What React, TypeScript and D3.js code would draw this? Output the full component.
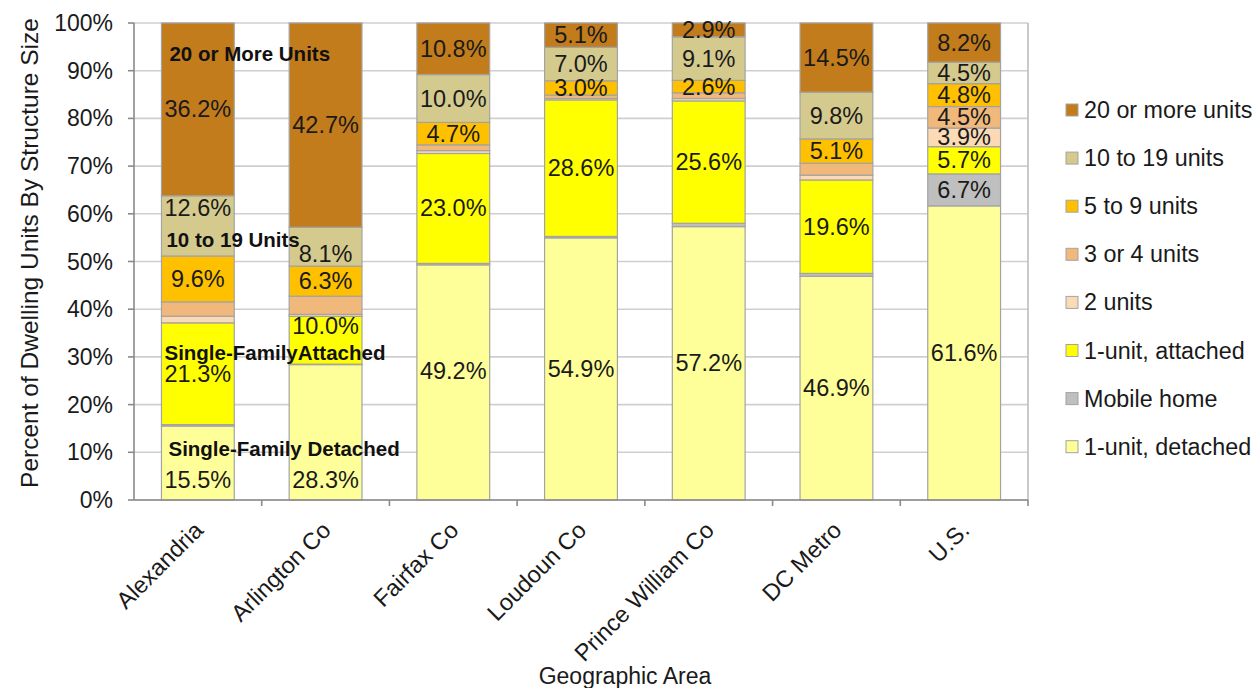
import React from "react";
import * as d3 from "d3";

const categories = ["Alexandria", "Arlington Co", "Fairfax Co", "Loudoun Co", "Prince William Co", "DC Metro", "U.S."];
const seriesNames = ["1-unit, detached", "Mobile home", "1-unit, attached", "2 units", "3 or 4 units", "5 to 9 units", "10 to 19 units", "20 or more units"];
const detached = [15.5, 28.3, 49.2, 54.9, 57.2, 46.9, 61.6];
const mobileHome = [0.3, 0.1, 0.3, 0.3, 0.7, 0.6, 6.7];
const attached = [21.3, 10.0, 23.0, 28.6, 25.6, 19.6, 5.7];
const twoUnits = [1.4, 0.4, 0.6, 0.3, 0.5, 1.0, 3.9];
const threeFour = [3.0, 3.8, 1.2, 0.7, 1.2, 2.5, 4.5];
const fiveNine = [9.6, 6.3, 4.7, 3.0, 2.6, 5.1, 4.8];
const tenNineteen = [12.6, 8.1, 10.0, 7.0, 9.1, 9.8, 4.5];
const twentyPlus = [36.2, 42.7, 10.8, 5.1, 2.9, 14.5, 8.2];
const yTicks = [0, 10, 20, 30, 40, 50, 60, 70, 80, 90, 100];
const seriesColors = ["#FFFF99", "#BFBFBF", "#FFFF00", "#FBDAB5", "#F1B87C", "#FFC000", "#D5CA8E", "#C27C1C"];
const legendOrder = ["20 or more units", "10 to 19 units", "5 to 9 units", "3 or 4 units", "2 units", "1-unit, attached", "Mobile home", "1-unit, detached"];
// Series whose labels are shown in every bar; the rest only for U.S.
const alwaysLabeled = ["1-unit, detached", "1-unit, attached", "5 to 9 units", "10 to 19 units", "20 or more units"];
// Label nudges (percentage points) as placed in the original
const labelShifts = [
  { cat: "Alexandria", series: "10 to 19 units", dy: 3.7 },
  { cat: "Alexandria", series: "1-unit, detached", dy: -3.5 },
  { cat: "Arlington Co", series: "10 to 19 units", dy: -1.6 },
  { cat: "Arlington Co", series: "1-unit, attached", dy: 2.9 },
  { cat: "Arlington Co", series: "1-unit, detached", dy: -10 },
  { cat: "Fairfax Co", series: "1-unit, detached", dy: 2.3 },
];
const annotations = [
  { text: "20 or More Units", level: 93.7, dx: 8 },
  { text: "10 to 19 Units", level: 54.6, dx: 5 },
  { text: "Single-FamilyAttached", level: 31.0, dx: 3 },
  { text: "Single-Family Detached", level: 10.8, dx: 7 },
];

const W = 1256, H = 688;
const M = { left: 134, right: 1028, top: 23, bottom: 500 };
const FONT = "'Liberation Sans', Arial, Helvetica, sans-serif";

export default function App() {
  const valuesBySeries = [detached, mobileHome, attached, twoUnits, threeFour, fiveNine, tenNineteen, twentyPlus];
  const rows = categories.map((c, i) => {
    const r: any = { cat: c };
    seriesNames.forEach((s, j) => (r[s] = valuesBySeries[j][i]));
    return r;
  });
  const stacked = d3.stack().keys(seriesNames).offset(d3.stackOffsetExpand)(rows);

  const x = d3.scaleBand().domain(categories).range([M.left, M.right]).paddingInner(0.43).paddingOuter(0.215);
  const y = d3.scaleLinear().domain([0, 100]).range([M.bottom, M.top]);
  const step = x.step();
  const color = d3.scaleOrdinal<string, string>().domain(seriesNames).range(seriesColors);

  return (
    <div style={{ position: "absolute", left: 0, top: 0 }}>
      <svg width={W} height={H} style={{ display: "block", fontFamily: FONT }}>
        <rect x={0} y={0} width={W} height={H} fill="#fff" />
        {/* gridlines */}
        {yTicks.map((t) => (
          <line key={t} x1={M.left} x2={M.right} y1={y(t)} y2={y(t)} stroke="#CFCFCF" strokeWidth={1.6} />
        ))}
        <line x1={M.right} x2={M.right} y1={M.top} y2={M.bottom} stroke="#BDBDBD" strokeWidth={1.6} />
        {/* bars */}
        {stacked.map((layer) =>
          layer.map((d, i) => {
            const cat = categories[i];
            return (
              <rect
                key={layer.key + cat}
                x={x(cat)!}
                width={x.bandwidth()}
                y={y(d[1] * 100)}
                height={Math.max(0, y(d[0] * 100) - y(d[1] * 100))}
                fill={color(layer.key)}
                stroke="#A3A3A3"
                strokeWidth={1.2}
              />
            );
          })
        )}
        {/* axes */}
        <line x1={M.left} x2={M.left} y1={M.top} y2={M.bottom} stroke="#8A8A8A" strokeWidth={1.6} />
        <line x1={M.left} x2={M.right} y1={M.bottom} y2={M.bottom} stroke="#8A8A8A" strokeWidth={1.6} />
        {yTicks.map((t) => (
          <g key={"yt" + t}>
            <line x1={M.left - 6} x2={M.left} y1={y(t)} y2={y(t)} stroke="#8A8A8A" strokeWidth={1.6} />
            <text x={113} y={y(t)} textAnchor="end" dominantBaseline="central" fontSize={23} fill="#1a1a1a">
              {t + "%"}
            </text>
          </g>
        ))}
        {categories.map((c, i) => (
          <line key={"xt" + c} x1={M.left + step * (i + 1)} x2={M.left + step * (i + 1)} y1={M.bottom} y2={M.bottom + 6} stroke="#8A8A8A" strokeWidth={1.6} />
        ))}
        {categories.map((c) => {
          const cx = x(c)! + x.bandwidth() / 2 + 1;
          return (
            <text key={"xl" + c} transform={`translate(${cx},${M.bottom + 26}) rotate(-45)`} textAnchor="end" dominantBaseline="central" fontSize={23.5} fill="#1a1a1a">
              {c}
            </text>
          );
        })}
        <text transform={`translate(29,253) rotate(-90)`} textAnchor="middle" dominantBaseline="central" fontSize={24.5} fill="#1a1a1a">
          Percent of Dwelling Units By Structure Size
        </text>
        <text x={625} y={676} textAnchor="middle" dominantBaseline="central" fontSize={23} fill="#1a1a1a">
          Geographic Area
        </text>
        {/* value labels */}
        {stacked.map((layer, j) =>
          layer.map((d, i) => {
            const cat = categories[i];
            if (!alwaysLabeled.includes(layer.key) && cat !== "U.S.") return null;
            const shift = labelShifts.find((s) => s.cat === cat && s.series === layer.key);
            const mid = ((d[0] + d[1]) / 2) * 100 + (shift ? shift.dy : 0);
            return (
              <text key={"lb" + layer.key + cat} x={x(cat)! + x.bandwidth() / 2} y={y(mid)} textAnchor="middle" dominantBaseline="central" fontSize={23.5} fill="#1a1a1a">
                {valuesBySeries[j][i].toFixed(1) + "%"}
              </text>
            );
          })
        )}
        {/* annotations */}
        {annotations.map((a) => (
          <text key={a.text} x={x(categories[0])! + a.dx} y={y(a.level)} dominantBaseline="central" fontSize={20.5} fontWeight="bold" fill="#111">
            {a.text}
          </text>
        ))}
        {/* legend */}
        {legendOrder.map((s, k) => {
          const ly = 110 + k * 48.1;
          return (
            <g key={"lg" + s}>
              <rect x={1066} y={ly - 6} width={12} height={12} fill={color(s)} stroke="#A3A3A3" strokeWidth={1} />
              <text x={1084} y={ly} dominantBaseline="central" fontSize={23.3} fill="#1a1a1a">
                {s}
              </text>
            </g>
          );
        })}
      </svg>
    </div>
  );
}
